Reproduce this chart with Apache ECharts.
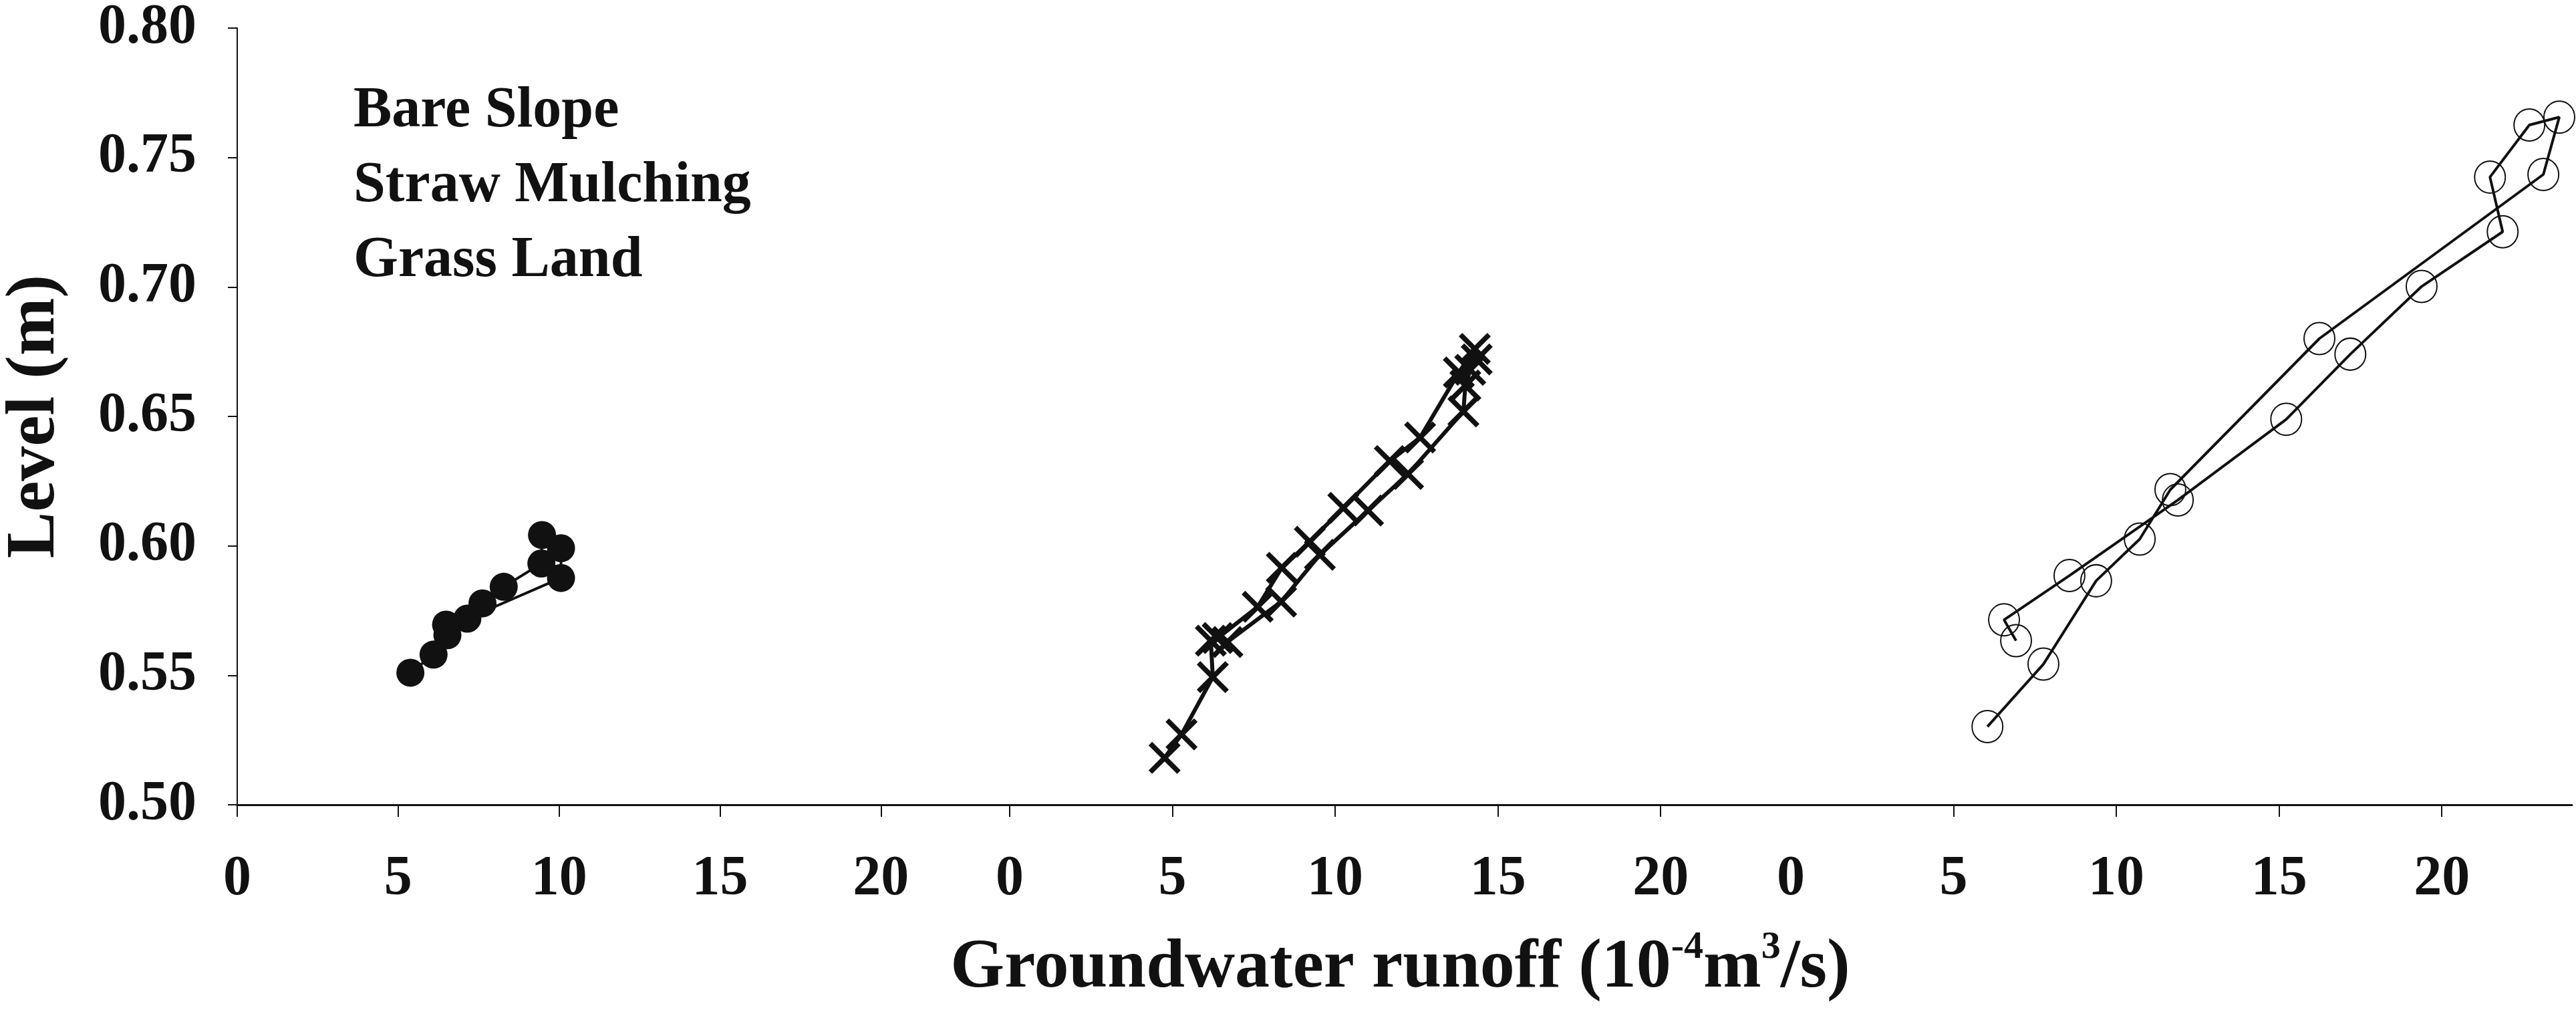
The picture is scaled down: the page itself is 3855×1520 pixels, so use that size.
<!DOCTYPE html>
<html><head><meta charset="utf-8">
<script src="https://cdn.jsdelivr.net/npm/echarts@6/dist/echarts.min.js"></script>
<style>html,body{margin:0;padding:0;background:#fff}#c{width:3855px;height:1520px}</style>
</head><body><div id="c"></div>
<script>
// ---- data ----
const seriesNames = ['Bare Slope', 'Straw Mulching', 'Grass Land'];
const xTickLabels = [0, 5, 10, 15, 20];
const yMin = 0.5, yMax = 0.8, yStep = 0.05;

const bareRunoff = [5.38, 6.10, 6.53, 6.49, 7.62, 8.28, 9.45, 9.47, 10.06, 10.06, 7.15];
const bareLevel  = [0.551, 0.558, 0.5655, 0.5696, 0.5778, 0.5842, 0.5932, 0.6042, 0.5991, 0.5876, 0.5719];

const strawRunoff = [4.76, 5.28, 6.24, 6.18, 6.39, 7.62, 8.36, 9.22, 10.25, 11.68, 12.61, 13.80, 14.29, 14.35, 14.15, 14.00, 13.94, 12.24, 11.01, 9.53, 8.34, 6.69];
const strawLevel  = [0.518, 0.527, 0.549, 0.563, 0.564, 0.576, 0.591, 0.601, 0.614, 0.632, 0.641, 0.666, 0.675, 0.671, 0.667, 0.661, 0.651, 0.627, 0.613, 0.596, 0.578, 0.5625];

const grassRunoff = [6.04, 7.76, 9.38, 10.72, 11.66, 16.24, 23.12, 23.61, 22.69, 21.48, 21.87, 19.38, 17.19, 15.22, 11.89, 8.56, 6.55, 6.92];
const grassLevel  = [0.530, 0.554, 0.586, 0.602, 0.621, 0.679, 0.742, 0.764, 0.761, 0.741, 0.720, 0.699, 0.673, 0.648, 0.617, 0.588, 0.571, 0.563];

// ---- chart ----
const FONT = "'Liberation Serif', 'Times New Roman', serif";
const INK = '#111';
const pairs = (xs, ys) => xs.map((x, i) => [x, ys[i]]);
const xPath = 'path://M0,11 L11,0 L50,39 L89,0 L100,11 L61,50 L100,89 L89,100 L50,61 L11,100 L0,89 L39,50 Z';

const gridLefts = [342, 1511, 2680];
const grids = gridLefts.map(l => ({ left: l, top: 35, width: 1169, height: 1169 }));

const xAxes = gridLefts.map((l, i) => ({
  type: 'value', gridIndex: i, min: 0, max: 24,
  axisLine: { show: true, onZero: false, lineStyle: { color: INK, width: 3 } },
  axisTick: { show: true, length: 18, customValues: i === 2 ? xTickLabels.slice(1) : xTickLabels, lineStyle: { color: INK, width: 2 } },
  axisLabel: { customValues: xTickLabels, margin: 70, fontFamily: FONT, fontWeight: 'bold', fontSize: 84, color: INK },
  splitLine: { show: false }
}));
xAxes[1].name = '{a|Groundwater runoff (10}{s|-4}{a|m}{s|3}{a|/s)}';
xAxes[1].nameLocation = 'middle';
xAxes[1].nameGap = 185;
xAxes[1].nameTextStyle = {
  rich: {
    a: { fontFamily: FONT, fontWeight: 'bold', fontSize: 104, color: INK, lineHeight: 120 },
    s: { fontFamily: FONT, fontWeight: 'bold', fontSize: 58, color: INK, lineHeight: 58, verticalAlign: 'top' }
  }
};

const yAxes = gridLefts.map((l, i) => ({
  type: 'value', gridIndex: i, min: yMin, max: yMax, interval: yStep,
  show: i === 0,
  axisLine: { show: true, lineStyle: { color: INK, width: 2 } },
  axisTick: { show: true, length: 14, lineStyle: { color: INK, width: 2 } },
  axisLabel: { margin: 61, fontFamily: FONT, fontWeight: 'bold', fontSize: 84, color: INK, formatter: v => v.toFixed(2) },
  splitLine: { show: false }
}));
yAxes[0].name = 'Level (m)';
yAxes[0].nameLocation = 'middle';
yAxes[0].nameGap = 250;
yAxes[0].nameTextStyle = { fontFamily: FONT, fontWeight: 'bold', fontSize: 104, color: INK };

const option = {
  backgroundColor: '#fff',
  animation: false,
  grid: grids,
  xAxis: xAxes,
  yAxis: yAxes,
  legend: {
    orient: 'vertical', left: 518, top: 112, itemWidth: 0, itemHeight: 0, itemGap: 12,
    icon: 'rect', selectedMode: false,
    data: seriesNames,
    textStyle: { fontFamily: FONT, fontWeight: 'bold', fontSize: 86, lineHeight: 100, color: INK }
  },
  series: [
    { name: seriesNames[0], type: 'line', xAxisIndex: 0, yAxisIndex: 0, clip: false,
      data: pairs(bareRunoff, bareLevel), symbol: 'circle', symbolSize: 42,
      itemStyle: { color: INK }, lineStyle: { color: INK, width: 4 } },
    { name: seriesNames[1], type: 'line', xAxisIndex: 1, yAxisIndex: 1, clip: false,
      data: pairs(strawRunoff, strawLevel), symbol: xPath, symbolSize: 48,
      itemStyle: { color: INK }, lineStyle: { color: INK, width: 6 } },
    { name: seriesNames[2], type: 'line', xAxisIndex: 2, yAxisIndex: 2, clip: false,
      data: pairs(grassRunoff, grassLevel), symbol: 'circle', symbolSize: [46, 48],
      itemStyle: { color: 'rgba(0,0,0,0)', borderColor: INK, borderWidth: 2 }, lineStyle: { color: INK, width: 4 } }
  ]
};
echarts.init(document.getElementById('c')).setOption(option);
</script></body></html>
